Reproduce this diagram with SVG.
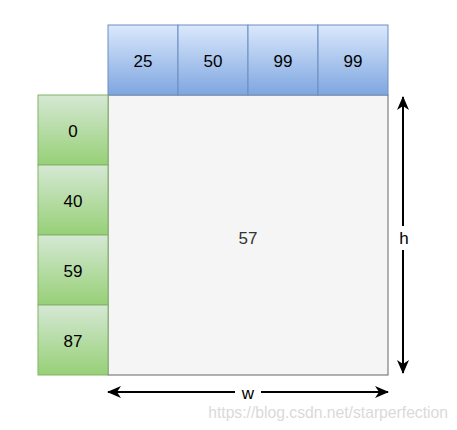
<svg xmlns="http://www.w3.org/2000/svg" width="457" height="430" viewBox="0 0 457 430">
<defs>
<linearGradient id="gb" x1="0" y1="0" x2="0" y2="1"><stop offset="0" stop-color="#dae8fc"/><stop offset="1" stop-color="#7ea6e0"/></linearGradient>
<linearGradient id="gg" x1="0" y1="0" x2="0" y2="1"><stop offset="0" stop-color="#d5e8d4"/><stop offset="1" stop-color="#97d077"/></linearGradient>
<marker id="ah" viewBox="0 0 14 12" refX="13" refY="6" markerWidth="14" markerHeight="12" markerUnits="userSpaceOnUse" orient="auto-start-reverse"><path d="M0,0 L14,6 L0,12 L4,6 Z" fill="#000"/></marker>
</defs>
<style>
.b{fill:url(#gb);stroke:#6c8ebf;stroke-width:1}
.g{fill:url(#gg);stroke:#82b366;stroke-width:1}
.t{font-family:"Liberation Sans",Arial,sans-serif;font-size:17px;text-anchor:middle;dominant-baseline:central;fill:#000}
.a{stroke:#000;stroke-width:2;fill:none;marker-start:url(#ah);marker-end:url(#ah)}
</style>
<rect width="457" height="430" fill="#fff"/>
<g id="main"><rect x="108" y="95" width="280" height="280" fill="#f5f5f5" stroke="#666666"/><text class="t" x="248" y="238" style="fill:#333">57</text></g>
<g id="top0"><rect class="b" x="108" y="25" width="70" height="70"/><text class="t" x="143" y="61">25</text></g>
<g id="top1"><rect class="b" x="178" y="25" width="70" height="70"/><text class="t" x="213" y="61">50</text></g>
<g id="top2"><rect class="b" x="248" y="25" width="70" height="70"/><text class="t" x="283" y="61">99</text></g>
<g id="top3"><rect class="b" x="318" y="25" width="70" height="70"/><text class="t" x="353" y="61">99</text></g>
<g id="left0"><rect class="g" x="38" y="95" width="70" height="70"/><text class="t" x="73" y="131">0</text></g>
<g id="left1"><rect class="g" x="38" y="165" width="70" height="70"/><text class="t" x="73" y="201">40</text></g>
<g id="left2"><rect class="g" x="38" y="235" width="70" height="70"/><text class="t" x="73" y="271">59</text></g>
<g id="left3"><rect class="g" x="38" y="305" width="70" height="70"/><text class="t" x="73" y="341">87</text></g>
<g id="connectors">
<line class="a" x1="403" y1="97" x2="403" y2="373"/>
<rect x="395" y="226" width="16" height="24" fill="#fff"/>
<text class="t" x="404" y="238">h</text>
<line class="a" x1="108" y1="392" x2="388" y2="392"/>
<rect x="235" y="382" width="26" height="20" fill="#fff"/>
<text class="t" x="248" y="393">w</text>
</g>
<text x="448" y="418" font-family="'Liberation Sans',Arial,sans-serif" font-size="15.7" fill="#dadada" text-anchor="end">https://blog.csdn.net/starperfection</text>
</svg>
